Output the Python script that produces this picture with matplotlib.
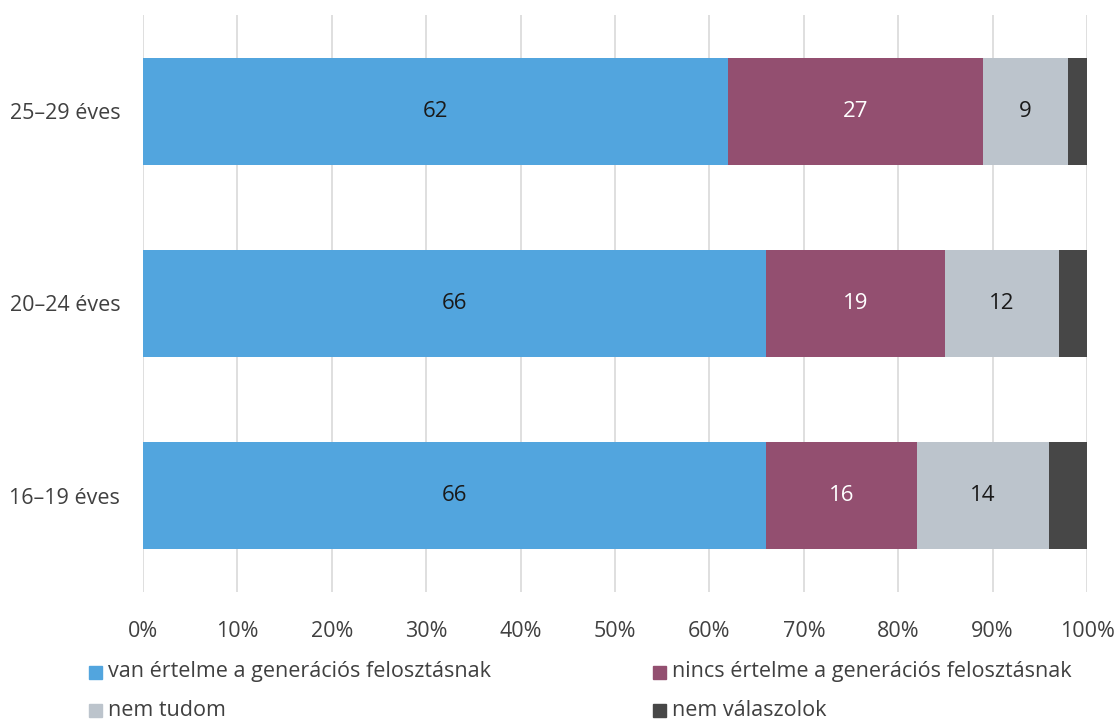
import matplotlib.pyplot as plt
from matplotlib.patches import Rectangle

plt.rcParams['font.family'] = ['Open Sans', 'DejaVu Sans']

# age groups, bottom to top
groups = ['16–19 éves', '20–24 éves', '25–29 éves']
van_ertelme = [66, 66, 62]
nincs_ertelme = [16, 19, 27]
nem_tudom = [14, 12, 9]
nem_valaszol = [4, 3, 2]

series = [
    ('van értelme a generációs felosztásnak', van_ertelme, '#52A5DE', '#1a1a1a'),
    ('nincs értelme a generációs felosztásnak', nincs_ertelme, '#934F70', 'white'),
    ('nem tudom', nem_tudom, '#BCC4CC', '#1a1a1a'),
    ('nem válaszolok', nem_valaszol, '#474747', None),
]

FS = 15.5

fig = plt.figure(figsize=(11.15, 7.2), dpi=100)
ax = fig.add_axes([0.1283, 0.1778, 0.9749 - 0.1283, 0.9792 - 0.1778])

ypos = list(range(len(groups)))
left = [0] * len(groups)
for name, vals, col, txtcol in series:
    ax.barh(ypos, vals, left=left, height=0.555, color=col, zorder=3)
    if txtcol is not None:
        for y, l, v in zip(ypos, left, vals):
            ax.text(l + v / 2, y, str(v), ha='center', va='center',
                    color=txtcol, fontsize=FS + 0.5, zorder=4)
    left = [l + v for l, v in zip(left, vals)]

ax.set_xlim(0, 100)
ax.set_ylim(-0.5, 2.5)
ax.set_xticks(range(0, 101, 10))
ax.set_xticklabels([f'{t}%' for t in range(0, 101, 10)])
ax.set_yticks(ypos)
ax.set_yticklabels(groups)
ax.tick_params(axis='both', length=0, labelsize=FS, colors='#404040')
ax.tick_params(axis='x', pad=21)
ax.tick_params(axis='y', pad=16.5)
ax.xaxis.grid(True, color='#D9D9D9', linewidth=1.2, zorder=0)
for s in ax.spines.values():
    s.set_visible(False)

# legend drawn by hand: two columns, two rows
W, H = 1115, 720
spots = [(89, 672), (653, 672), (89, 710), (653, 710)]
for (x, y), (name, _, col, _) in zip(spots, series):
    fig.patches.append(Rectangle((x / W, (H - y - 6.5) / H), 13 / W, 13 / H,
                                 transform=fig.transFigure, color=col))
    fig.text((x + 19) / W, (H - y) / H, name, ha='left', va='center',
             fontsize=FS, color='#404040')

fig.savefig('out.png', dpi=100, facecolor='white')
